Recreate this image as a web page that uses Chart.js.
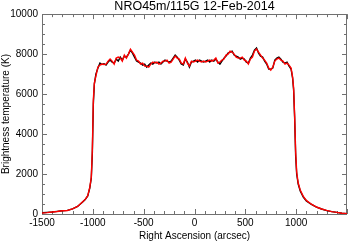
<!DOCTYPE html>
<html><head><meta charset="utf-8">
<script src="https://cdn.jsdelivr.net/npm/chart.js@4/dist/chart.umd.min.js"></script>
<style>html,body{margin:0;padding:0;background:#fff}#wrap{width:350px;height:243px}</style>
</head><body><div id="wrap"><canvas id="c" width="350" height="243"></canvas></div>
<script>
const chartTitle = 'NRO45m/115G 12-Feb-2014';
const xTitle = 'Right Ascension (arcsec)';
const yTitle = 'Brightness temperature (K)';
const xTicks = [-1500, -1000, -500, 0, 500, 1000, 1500];
const yTicks = [0, 2000, 4000, 6000, 8000, 10000];
const raArcsec = [-1500,-1450,-1400,-1350,-1300,-1250,-1200,-1150,-1100,-1075,-1050,-1030,-1015,-1005,-995,-985,-970,-950,-930,-910,-890,-870,-850,-830,-810,-790,-770,-750,-730,-710,-690,-670,-650,-630,-610,-590,-570,-550,-530,-510,-490,-470,-450,-430,-410,-390,-370,-350,-330,-310,-290,-270,-250,-230,-210,-190,-170,-150,-130,-110,-90,-70,-50,-30,-10,10,30,50,70,90,110,130,150,170,190,210,230,250,270,290,310,330,350,370,390,410,430,450,470,490,510,530,550,570,590,610,630,650,670,690,710,730,750,770,790,810,830,850,870,890,910,930,950,965,975,985,995,1005,1020,1040,1070,1100,1150,1200,1250,1300,1350,1400,1450,1500];
const tbBlack = [60,80,100,130,160,180,260,380,600,720,900,1300,1800,3000,5500,6500,7000,7300,7550,7480,7520,7450,7600,7700,7600,7550,7750,7650,7850,7700,7900,7850,8000,8200,8050,7850,7650,7600,7550,7450,7500,7350,7450,7550,7500,7600,7550,7600,7500,7600,7700,7650,7600,7650,7800,7950,7850,7700,7500,7450,7750,7600,7350,7600,7650,7700,7600,7700,7650,7600,7650,7700,7600,7700,7650,7750,7600,7500,7650,7800,7900,8050,8100,8150,7950,7900,7850,7750,7800,7750,7600,7550,7800,7950,8200,8300,8050,7900,7850,7650,7500,7250,7250,7300,7700,7800,7850,7750,7600,7550,7600,7400,7250,6800,6200,4800,2900,2000,1500,1150,850,650,480,340,250,170,120,80,40,20];
const tbRed = [50,70,100,125,160,175,255,380,610,730,920,1330,1850,3200,5700,6550,6900,7350,7450,7500,7480,7500,7650,7750,7650,7500,7800,7850,7800,7650,7950,7800,8000,8250,8100,7950,7700,7650,7500,7550,7400,7400,7350,7500,7600,7550,7600,7500,7550,7650,7650,7700,7550,7600,7750,7900,7800,7750,7550,7500,7800,7550,7400,7650,7600,7650,7700,7650,7600,7650,7600,7650,7700,7650,7700,7800,7550,7600,7700,7750,7950,8000,8150,8100,8000,7850,7800,7800,7850,7700,7650,7500,7750,7850,8150,8250,8100,7950,7800,7700,7550,7300,7200,7350,7650,7750,7800,7700,7650,7500,7550,7450,7300,6850,6300,4900,3100,2100,1550,1200,880,680,490,350,250,180,120,80,40,10];

const pts = (ys) => raArcsec.map((x, i) => ({x: x, y: ys[i]}));
const FONT = 'Liberation Sans, Arial, Helvetica, sans-serif';
const AXC = '#707070';

const framePlugin = {
  id: 'frame',
  beforeDatasetsDraw(chart) {
    const {ctx, chartArea: a, scales} = chart;
    const xs = scales.x, ys = scales.y;
    ctx.save();
    ctx.strokeStyle = AXC;
    ctx.lineWidth = 1;
    ctx.strokeRect(Math.round(a.left) + 0.5, Math.round(a.top) + 0.5, Math.round(a.right - a.left) - 1, Math.round(a.bottom - a.top));
    ctx.beginPath();
    for (let v = xs.min; v <= xs.max; v += 100) {
      const px = Math.round(xs.getPixelForValue(v)) + 0.5;
      const len = (v % 500 === 0) ? 5 : 3;
      ctx.moveTo(px, a.bottom); ctx.lineTo(px, a.bottom - len);
      ctx.moveTo(px, a.top); ctx.lineTo(px, a.top + len);
    }
    for (let v = ys.min; v <= ys.max; v += 500) {
      const py = Math.round(ys.getPixelForValue(v)) + 0.5;
      const len = (v % 2000 === 0) ? 5 : 3;
      ctx.moveTo(a.left, py); ctx.lineTo(a.left + len, py);
      ctx.moveTo(a.right, py); ctx.lineTo(a.right - len, py);
    }
    ctx.stroke();
    ctx.restore();
  }
};

new Chart(document.getElementById('c'), {
  type: 'line',
  data: {
    datasets: [
      {label: 'red', data: pts(tbRed), borderColor: '#ff0000', borderWidth: 1.4, pointRadius: 0, tension: 0, fill: false},
      {label: 'black', data: pts(tbBlack), borderColor: '#000000', borderWidth: 1.4, pointRadius: 0, tension: 0, fill: false}
    ]
  },
  options: {
    responsive: false,
    animation: false,
    devicePixelRatio: 1,
    layout: {padding: {left: 0, right: 1, top: 0, bottom: 0}},
    plugins: {
      legend: {display: false},
      tooltip: {enabled: false},
      title: {display: true, text: chartTitle, fullSize: false, color: '#000', font: {family: FONT, size: 12.5, weight: 'normal', lineHeight: 1.05}, padding: {top: 0, bottom: 1}}
    },
    scales: {
      x: {
        type: 'linear', min: xTicks[0], max: xTicks[xTicks.length - 1],
        afterBuildTicks: (s) => { s.ticks = xTicks.map(v => ({value: v})); },
        afterFit: (s) => { s.height = 29; },
        grid: {display: false, drawTicks: false},
        border: {display: false},
        ticks: {autoSkip: false, maxRotation: 0, padding: 3, color: '#000', font: {family: FONT, size: 10},
          callback: (v) => (v === xTicks[xTicks.length - 1] ? '' : String(v))},
        title: {display: true, text: xTitle, color: '#000', font: {family: FONT, size: 10, lineHeight: 1.2}, padding: {top: 0, bottom: 1}}
      },
      y: {
        type: 'linear', min: yTicks[0], max: yTicks[yTicks.length - 1],
        afterBuildTicks: (s) => { s.ticks = yTicks.map(v => ({value: v})); },
        afterFit: (s) => { s.width = 42; },
        grid: {display: false, drawTicks: false},
        border: {display: false},
        ticks: {autoSkip: false, padding: 4, color: '#000', font: {family: FONT, size: 10}, callback: (v) => String(v)},
        title: {display: true, text: yTitle, color: '#000', font: {family: FONT, size: 10, lineHeight: 1.2}, padding: {top: 0, bottom: 0}}
      }
    }
  },
  plugins: [framePlugin]
});
</script>
</body></html>
